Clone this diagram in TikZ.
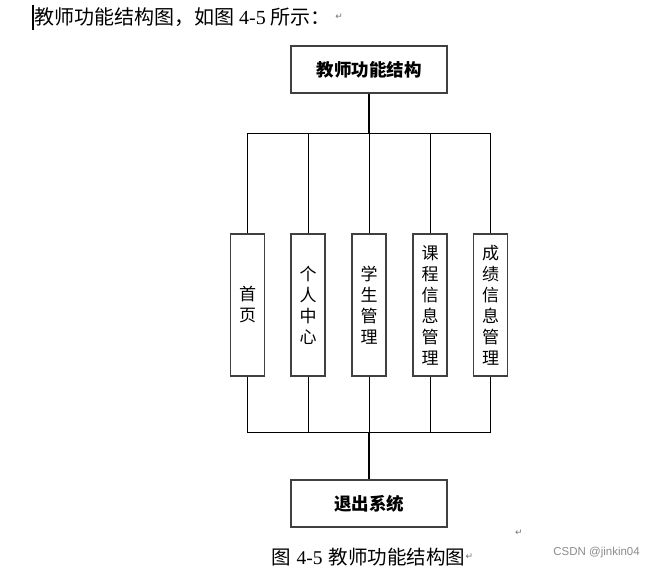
\documentclass[tikz,border=0pt]{standalone}
\usepackage{fontspec}
\newfontfamily\cjk{Noto Sans CJK SC}
\newfontfamily\lser{Liberation Serif}
\newfontfamily\dv{DejaVu Sans}
\newfontfamily\lsans{Liberation Sans}
\begin{document}
\begin{tikzpicture}[x=1pt,y=-1pt,
  hbox/.style={draw=black!75,line width=1.3pt,fill=white,minimum width=156pt,minimum height=47pt,inner sep=0pt,font=\cjk\bfseries\fontsize{17.5}{17.5}\selectfont},
  vbox/.style={draw=black!75,line width=1.1pt,fill=white,minimum width=34pt,minimum height=142pt,inner sep=0pt,align=center,font=\cjk\fontsize{17}{21}\selectfont},
  link/.style={line width=0.9pt,draw=black},
  trunk/.style={line width=2pt,draw=black},
  retmark/.style={font=\dv\fontsize{9}{9}\selectfont,text=black!55,inner sep=0pt}]
\useasboundingbox (0,0) rectangle (655,570);
\fill[white] (0,0) rectangle (655,570);
% top sentence
\draw[line width=1.6pt] (33,5) coordinate (cs) -- (33,30) coordinate (ce);
\node[anchor=west,inner sep=0pt,font=\cjk\fontsize{20}{20}\selectfont] (intro) at (34,17) {教师功能结构图，如图\hspace{5pt}{\lser 4-5}\hspace{5pt}所示：};
\node[retmark,anchor=west] (r1) at ([xshift=4pt]intro.east) {↵};
% nodes
\node[hbox] (top) at (369,69.5) {教师功能结构};
\node[vbox] (b1) at (247.5,305) {首\\页};
\node[vbox] (b2) at (308,305) {个\\人\\中\\心};
\node[vbox] (b3) at (369,305) {学\\生\\管\\理};
\node[vbox] (b4) at (430,305) {课\\程\\信\\息\\管\\理};
\node[vbox] (b5) at (490.5,305) {成\\绩\\信\\息\\管\\理};
\node[hbox] (exit) at (369,503.5) {退出系统};
\coordinate (bt) at (369,133);
\coordinate (bb) at (369,432);
% connectors
\draw[trunk] (top.south) -- (bt);
\foreach \b in {b1,b2,b3,b4,b5}{
  \draw[link] (\b.north) |- (bt);
  \draw[link] (\b.south) |- (bb);
}
\draw[trunk] (bb) -- (exit.north);
% marks and caption
\node[retmark] (r2) at (519,533) {↵};
\node[anchor=west,inner sep=0pt,font=\cjk\fontsize{19.5}{19.5}\selectfont] (cap) at (271,557) {图\hspace{6pt}{\lser 4-5}\hspace{6pt}教师功能结构图};
\node[retmark,anchor=west] (r3) at (cap.east) {↵};
\node[anchor=east,inner sep=0pt,text=black!45,font=\lsans\fontsize{11.5}{11.5}\selectfont] (wm) at (640,553) {CSDN @jinkin04};
\end{tikzpicture}
\end{document}
